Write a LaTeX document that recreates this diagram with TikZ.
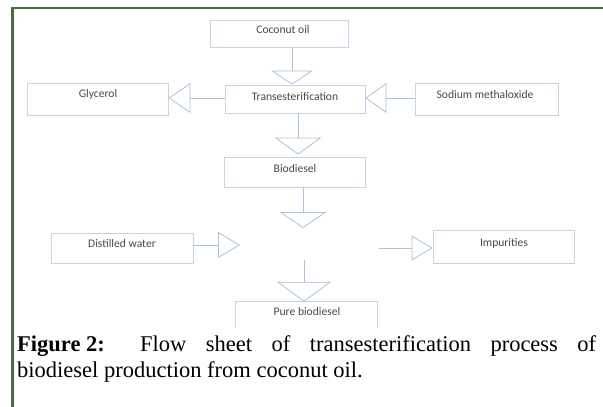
\documentclass[tikz,border=0pt]{standalone}
\usepackage{fontspec}
\setmainfont{Liberation Serif}
\newfontfamily\boxfont{Carlito}
\usetikzlibrary{arrows.meta}
\definecolor{framegreen}{RGB}{72,110,62}
\definecolor{boxline}{RGB}{196,212,232}
\definecolor{flowline}{RGB}{172,192,218}
\definecolor{lbltext}{RGB}{72,72,72}
\tikzset{
  boxshape/.style 2 args={draw=boxline,line width=0.9pt,inner sep=0pt,rectangle,minimum width=#1pt,minimum height=#2pt},
  lbl/.style={font=\boxfont\fontsize{11.6}{13}\selectfont,text=lbltext,inner sep=0pt},
  flow/.style={draw=flowline,line width=0.8pt},
  tri/.style 2 args={-{Triangle[open,length=#1pt,width=#2pt]}},
  captext/.style={font=\fontsize{22.5}{27}\selectfont,inner sep=0pt,anchor=base west}
}
\begin{document}
\begin{tikzpicture}[x=1pt,y=-1pt]
\useasboundingbox (0,0) rectangle (603,407);
% frame
\draw[framegreen,line width=2.5pt] (12.5,407) -- (12.5,8) -- (603,8);
% boxes
\node[boxshape={138}{27}] (coco) at (279,33.5) {};
\node[boxshape={140}{28}] (trans) at (295,99) {};
\node[boxshape={141}{32}] (gly) at (97.5,99) {};
\node[boxshape={143}{32}] (sod) at (486.5,99) {};
\node[boxshape={141}{30}] (bio) at (294.5,172) {};
\node[boxshape={142}{30}] (dist) at (122,248) {};
\node[boxshape={141}{33}] (imp) at (503.5,246.5) {};
\node[inner sep=0pt,minimum width=141pt,minimum height=26pt] (pure) at (306.5,315) {};
\draw[draw=boxline,line width=0.9pt] (pure.south west) -- (pure.north west) -- (pure.north east) -- (pure.south east);
% labels
\node[lbl] (cocot) at (283,30) {Coconut oil};
\node[lbl] (transt) at (295,97) {Transesterification};
\node[lbl] (glyt) at (98,94) {Glycerol};
\node[lbl] (sodt) at (485,95) {Sodium methaloxide};
\node[lbl] (biot) at (295,169) {Biodiesel};
\node[lbl] (distt) at (122,244) {Distilled water};
\node[lbl] (impt) at (504,243) {Impurities};
\node[lbl] (puret) at (307,312) {Pure biodiesel};
% free ends
\coordinate (mid1) at (303,228);
\coordinate (mid2) at (240,245);
\coordinate (mid3) at (379,248);
\coordinate (mid4) at (304,260);
% connectors
\draw[flow,tri={14}{42}] (coco.south -| 292,0) -- (trans.north -| 292,0);
\draw[flow,tri={22}{30}] (trans.west |- 0,98) -- (gly.east |- 0,98);
\draw[flow,tri={21}{30}] (sod.west |- 0,98) -- (trans.east |- 0,98);
\draw[flow,tri={17}{47}] (trans.south -| 298,0) -- ([yshift=2pt]bio.north -| 298,0);
\draw[flow,tri={16}{47}] (bio.south -| 303,0) -- (mid1);
\draw[flow,tri={22}{26}] (dist.east |- mid2) -- (mid2);
\draw[flow,tri={21}{25}] (mid3) -- (imp.west |- mid3);
\draw[flow,tri={20}{54}] (mid4) -- (pure.north -| mid4);
% caption
\node[captext] (cap1) at (17,351) {\makebox[579pt][s]{\textbf{Figure\kern0.25em 2:} Flow sheet of transesterification process of}};
\node[captext] (cap2) at (17,377) {biodiesel production from coconut oil.};
\end{tikzpicture}
\end{document}
